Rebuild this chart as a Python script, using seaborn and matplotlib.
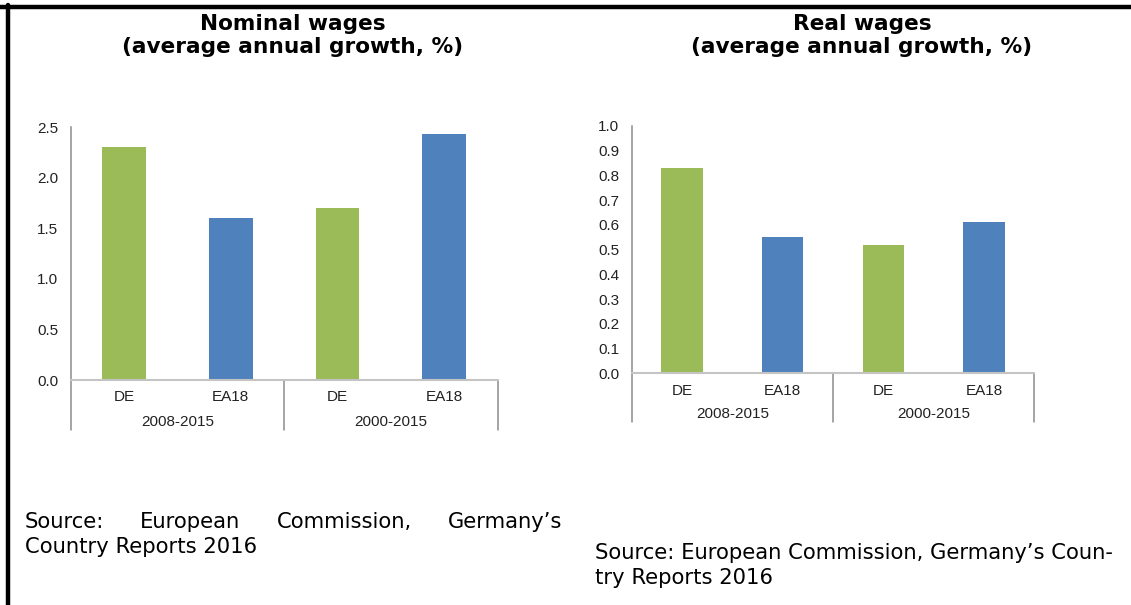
import matplotlib
matplotlib.use("Agg")
import matplotlib.pyplot as plt
from matplotlib.lines import Line2D
import seaborn as sns
import pandas as pd

# ---------------- data ----------------
periods = ["2008-2015", "2000-2015"]
regions = ["DE", "EA18"]
nominal_growth = [2.31, 1.60, 1.70, 2.43]   # DE, EA18 (2008-2015), DE, EA18 (2000-2015)
real_growth = [0.83, 0.55, 0.52, 0.61]
nominal_ticks = [0.0, 0.5, 1.0, 1.5, 2.0, 2.5]
real_ticks = [0.0, 0.1, 0.2, 0.3, 0.4, 0.5, 0.6, 0.7, 0.8, 0.9, 1.0]
title_left = "Nominal wages\n(average annual growth, %)"
title_right = "Real wages\n(average annual growth, %)"
source_left_line1 = ["Source:", "European", "Commission,", "Germany\u2019s"]
source_left_line2 = "Country Reports 2016"
source_right_line1 = "Source: European Commission, Germany\u2019s Coun-"
source_right_line2 = "try Reports 2016"

GREEN = "#9BBB59"
BLUE = "#4F81BD"

sns.set_theme(style="white")
plt.rcParams["font.family"] = ["DejaVu Sans"]

W, H = 1131, 605
fig = plt.figure(figsize=(W / 100, H / 100), dpi=100)


def fx(px):
    return px / W


def fy(py):
    return 1 - py / H


def make_df(values):
    rows = []
    for i, p in enumerate(periods):
        for j, r in enumerate(regions):
            rows.append({"cat": f"{r} {p}", "region": r, "period": p,
                         "value": values[i * len(regions) + j]})
    return pd.DataFrame(rows)


TICK_FONT = dict(fontfamily="Liberation Sans", fontsize=11, color="#222222")


def draw_panel(rect, values, ticks, drop_px):
    ax = fig.add_axes(rect)
    df = make_df(values)
    pal = {row.cat: (GREEN if row.region == "DE" else BLUE) for row in df.itertuples()}
    sns.barplot(data=df, x="cat", y="value", hue="cat", palette=pal, legend=False,
                width=0.41, saturation=1, ax=ax, linewidth=0)
    n = len(df)
    ax.set_xlim(-0.5, n - 0.5)
    ax.set_ylim(ticks[0], ticks[-1])
    ax.set_yticks(ticks)
    ax.set_yticklabels([f"{t:.1f}" for t in ticks], **TICK_FONT)
    ax.set_xticks(range(n))
    ax.set_xticklabels(df["region"].tolist(), **TICK_FONT)
    ax.tick_params(axis="y", length=0, pad=9)
    ax.tick_params(axis="x", length=0, pad=7.5)
    ax.set_xlabel("")
    ax.set_ylabel("")
    for s in ["top", "right"]:
        ax.spines[s].set_visible(False)
    ax.spines["left"].set_color("#8C8C8C")
    ax.spines["left"].set_linewidth(1.1)
    ax.spines["bottom"].set_color("#C4C4C4")
    ax.spines["bottom"].set_linewidth(1.5)
    h_px = rect[3] * H
    drop = drop_px / h_px
    trans = ax.get_xaxis_transform()
    seps = [-0.5 + k * len(regions) for k in range(len(periods) + 1)]
    for s in seps:
        ax.add_line(Line2D([s, s], [0, -drop], transform=trans, color="#8C8C8C",
                           lw=1.1, clip_on=False))
    for k, p in enumerate(periods):
        xc = (seps[k] + seps[k + 1]) / 2
        ax.text(xc, -drop * 0.83, p, transform=trans, ha="center", va="center", **TICK_FONT)
    return ax


# left panel: x 70.7..497.7, y 127.3..380
axL = draw_panel([fx(70.7), fy(380), fx(497.7 - 70.7), (380 - 127.3) / H],
                 nominal_growth, nominal_ticks, 50)
# right panel: x 631.7..1034.3, y 126..373.3
axR = draw_panel([fx(631.7), fy(373.3), fx(1034.3 - 631.7), (373.3 - 126) / H],
                 real_growth, real_ticks, 48.5)

# titles
title_kw = dict(ha="center", va="center", fontsize=15.6, fontweight="bold",
                linespacing=1.2, color="black")
fig.text(fx(293), fy(35.5), title_left, **title_kw)
fig.text(fx(862), fy(35.5), title_right, **title_kw)

# border (top and left)
fig.add_artist(Line2D([0, 1], [fy(7), fy(7)], transform=fig.transFigure, color="black", lw=3.2))
fig.add_artist(Line2D([fx(8), fx(8)], [0, fy(5)], transform=fig.transFigure, color="black", lw=3.2))

# source notes
src_kw = dict(fontsize=15.2, color="black", fontfamily="DejaVu Sans", va="center", ha="left")
renderer = fig.canvas.get_renderer()
words = [fig.text(0, fy(522), w, **src_kw) for w in source_left_line1]
widths = [w.get_window_extent(renderer).width for w in words]
x0, x1 = 25, 562
gap = ((x1 - x0) - sum(widths)) / (len(words) - 1)
x = x0
for t, wd in zip(words, widths):
    t.set_x(fx(x))
    x += wd + gap
fig.text(fx(25), fy(547), source_left_line2, **src_kw)
fig.text(fx(595), fy(553), source_right_line1, **src_kw)
fig.text(fx(595), fy(578), source_right_line2, **src_kw)

fig.savefig("out.png", dpi=100)
